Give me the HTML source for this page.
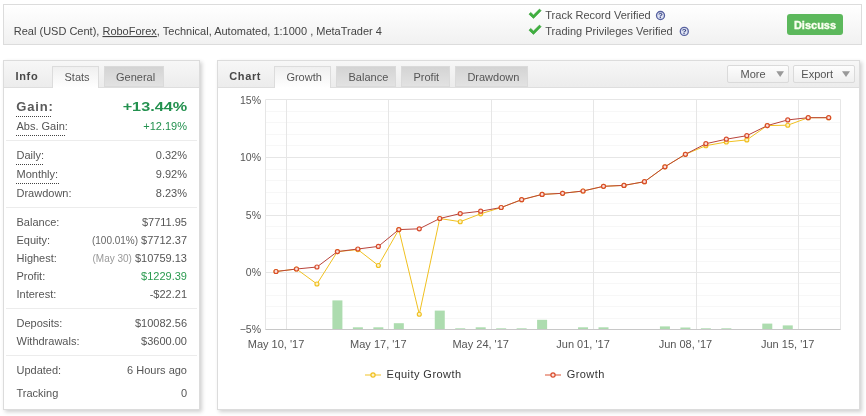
<!DOCTYPE html>
<html><head><meta charset="utf-8"><style>
html,body{margin:0;padding:0;background:#fff;}
body{width:866px;height:416px;position:relative;overflow:hidden;font-family:"Liberation Sans",sans-serif;}
.box{position:absolute;border:1px solid #dcdcdc;box-sizing:border-box;}
#top{left:3px;top:4px;width:859px;height:41px;background:linear-gradient(#ffffff,#f1f1f1);}
.panel{background:#fff;box-shadow:2px 2px 4px rgba(0,0,0,0.19);}
#lp{left:3px;top:60px;width:197px;height:350px;}
#cp{left:217px;top:60px;width:643px;height:350px;}
.hdr{position:absolute;left:0;top:0;right:0;height:26px;border-bottom:1px solid #dedede;background:linear-gradient(#f7f7f7,#ececec);}
.tab{position:absolute;top:5px;height:21px;box-sizing:border-box;background:linear-gradient(#d3d3d3,#e3e3e3);box-shadow:inset 0 0 0 1px #dadada;}
.tab.act{background:linear-gradient(#efefef,#ffffff);border:1px solid #dcdcdc;border-bottom:none;height:22px;box-shadow:none;}
.btn{position:absolute;top:4px;height:18px;box-sizing:border-box;border:1px solid #dadada;border-radius:2px;background:linear-gradient(#fdfdfd,#efefef);}
#disc{position:absolute;left:787px;top:14px;width:56px;height:21px;background:#5cb85c;border-radius:3px;}
svg{position:absolute;left:0;top:0;will-change:transform;}
text{font-family:"Liberation Sans",sans-serif;}
.lb{font-size:11px;fill:#555;}
.sm{font-size:10px;fill:#666;}
.sm2{font-size:10px;fill:#999;}
.ax{font-size:11px;fill:#555;}
.ay{font-size:10.5px;fill:#555;}
.lg{font-size:11px;fill:#333;letter-spacing:0.45px;}
.tb{font-size:11px;fill:#555;}
.hb{font-size:11px;font-weight:bold;fill:#484848;letter-spacing:0.65px;}
</style></head><body>
<div id="top" class="box"></div>
<div id="disc"></div>
<div id="lp" class="box panel"><div class="hdr">
<div class="tab act" style="left:48px;width:47px"></div>
<div class="tab" style="left:100px;width:60px"></div>
</div></div>
<div id="cp" class="box panel"><div class="hdr">
<div class="tab act" style="left:56px;width:57px"></div>
<div class="tab" style="left:118px;width:60px"></div>
<div class="tab" style="left:183px;width:49px"></div>
<div class="tab" style="left:237px;width:73px"></div>
<div class="btn" style="left:509px;width:62px"></div>
<div class="btn" style="left:575px;width:62px"></div>
</div></div>
<svg width="866" height="416" viewBox="0 0 866 416">
<!-- top bar -->
<text x="13.8" y="35" style="font-size:11px;fill:#444">Real (USD Cent), <tspan style="text-decoration:underline">RoboForex</tspan>, Technical, Automated, 1:1000 , MetaTrader 4</text>
<path d="M529 14.2 L530.7 12.4 L533.5 15 L539.5 9.1 L541.1 10.7 L533.5 18.4 Z" fill="#40b040" stroke="#2f9a2f" stroke-width="0.6" stroke-linejoin="round"/>
<path d="M529 30.2 L530.7 28.4 L533.5 31 L539.5 25.1 L541.1 26.7 L533.5 34.4 Z" fill="#40b040" stroke="#2f9a2f" stroke-width="0.6" stroke-linejoin="round"/>
<text x="545.3" y="18.7" style="font-size:11px;fill:#4d4d4d">Track Record Verified</text>
<text x="545.3" y="34.6" style="font-size:11px;fill:#4d4d4d">Trading Privileges Verified</text>
<circle cx="660.5" cy="15.5" r="4" fill="#dfe4f3" stroke="#56609f" stroke-width="1.3"/>
<text x="660.5" y="18.3" text-anchor="middle" style="font-size:8px;font-weight:bold;fill:#323d7e">?</text>
<circle cx="684.3" cy="31.4" r="4" fill="#dfe4f3" stroke="#56609f" stroke-width="1.3"/>
<text x="684.3" y="34.2" text-anchor="middle" style="font-size:8px;font-weight:bold;fill:#323d7e">?</text>
<text x="815" y="28.6" text-anchor="middle" style="font-size:11px;font-weight:bold;fill:#fbfff0;stroke:#fbfff0;stroke-width:0.35px">Discuss</text>
<!-- left panel header -->
<text x="15.5" y="79.7" class="hb">Info</text>
<text x="64.5" y="80.7" class="tb">Stats</text>
<text x="116" y="80.7" class="tb">General</text>
<!-- gain -->
<text x="16.3" y="111" style="font-size:13px;font-weight:bold;fill:#5a5a5a;letter-spacing:0.8px">Gain:</text>
<line x1="16" x2="52" y1="116.5" y2="116.5" stroke="#444" stroke-dasharray="1 1"/>
<text transform="translate(187.2 110.9) scale(1.3 1)" x="0" y="0" text-anchor="end" style="font-size:12.5px;font-weight:bold;fill:#23914f">+13.44%</text>
<text x="16.5" y="129.9" class="lb">Abs. Gain:</text>
<line x1="16" x2="65" y1="135.5" y2="135.5" stroke="#444" stroke-dasharray="1 1"/>
<text x="187" y="129.7" text-anchor="end" style="font-size:11px;fill:#23914f">+12.19%</text>
<line x1="6" x2="197" y1="140.5" y2="140.5" stroke="#ececec"/>
<line x1="16" x2="44" y1="164.5" y2="164.5" stroke="#444" stroke-dasharray="1 1"/>
<line x1="16" x2="60" y1="183.5" y2="183.5" stroke="#444" stroke-dasharray="1 1"/>
<line x1="6" x2="197" y1="207.5" y2="207.5" stroke="#ececec"/>
<line x1="6" x2="197" y1="308.5" y2="308.5" stroke="#ececec"/>
<line x1="6" x2="197" y1="355.5" y2="355.5" stroke="#ececec"/>
<text x="16.5" y="158.7" class="lb">Daily:</text>
<text x="187" y="158.7" text-anchor="end" class="lb">0.32%</text>
<text x="16.5" y="177.9" class="lb">Monthly:</text>
<text x="187" y="177.9" text-anchor="end" class="lb">9.92%</text>
<text x="16.5" y="197.0" class="lb">Drawdown:</text>
<text x="187" y="197.0" text-anchor="end" class="lb">8.23%</text>
<text x="16.5" y="226.0" class="lb">Balance:</text>
<text x="187" y="226.0" text-anchor="end" class="lb">$7711.95</text>
<text x="16.5" y="244.0" class="lb">Equity:</text>
<text x="187" y="244.0" text-anchor="end" class="lb"><tspan class="sm">(100.01%)</tspan> $7712.37</text>
<text x="16.5" y="262.1" class="lb">Highest:</text>
<text x="187" y="262.1" text-anchor="end" class="lb"><tspan class="sm2">(May 30)</tspan> $10759.13</text>
<text x="16.5" y="280.1" class="lb">Profit:</text>
<text x="187" y="280.1" text-anchor="end" class="lb"><tspan fill="#2a9a4f">$1229.39</tspan></text>
<text x="16.5" y="298.0" class="lb">Interest:</text>
<text x="187" y="298.0" text-anchor="end" class="lb">-$22.21</text>
<text x="16.5" y="327.0" class="lb">Deposits:</text>
<text x="187" y="327.0" text-anchor="end" class="lb">$10082.56</text>
<text x="16.5" y="344.6" class="lb">Withdrawals:</text>
<text x="187" y="344.6" text-anchor="end" class="lb">$3600.00</text>
<text x="16.5" y="373.9" class="lb">Updated:</text>
<text x="187" y="373.9" text-anchor="end" class="lb">6 Hours ago</text>
<text x="16.5" y="396.9" class="lb">Tracking</text>
<text x="187" y="396.9" text-anchor="end" class="lb">0</text>
<!-- chart header -->
<text x="229.2" y="80" class="hb">Chart</text>
<text x="286.4" y="80.7" class="tb">Growth</text>
<text x="348.5" y="80.7" class="tb">Balance</text>
<text x="413.5" y="80.7" class="tb">Profit</text>
<text x="467.4" y="80.7" class="tb">Drawdown</text>
<text x="740.6" y="78.4" class="tb">More</text>
<text x="801.3" y="78.4" class="tb">Export</text>
<path d="M776.3 71.3 L784 71.3 L780.15 77 Z" fill="#999"/>
<path d="M842 71.3 L850 71.3 L846 77 Z" fill="#999"/>
<line x1="265.5" x2="840.5" y1="111.5" y2="111.5" stroke="#f7f7f7" stroke-width="1"/>
<line x1="265.5" x2="840.5" y1="122.5" y2="122.5" stroke="#f7f7f7" stroke-width="1"/>
<line x1="265.5" x2="840.5" y1="134.5" y2="134.5" stroke="#f7f7f7" stroke-width="1"/>
<line x1="265.5" x2="840.5" y1="145.5" y2="145.5" stroke="#f7f7f7" stroke-width="1"/>
<line x1="265.5" x2="840.5" y1="169.5" y2="169.5" stroke="#f7f7f7" stroke-width="1"/>
<line x1="265.5" x2="840.5" y1="180.5" y2="180.5" stroke="#f7f7f7" stroke-width="1"/>
<line x1="265.5" x2="840.5" y1="192.5" y2="192.5" stroke="#f7f7f7" stroke-width="1"/>
<line x1="265.5" x2="840.5" y1="203.5" y2="203.5" stroke="#f7f7f7" stroke-width="1"/>
<line x1="265.5" x2="840.5" y1="226.5" y2="226.5" stroke="#f7f7f7" stroke-width="1"/>
<line x1="265.5" x2="840.5" y1="238.5" y2="238.5" stroke="#f7f7f7" stroke-width="1"/>
<line x1="265.5" x2="840.5" y1="249.5" y2="249.5" stroke="#f7f7f7" stroke-width="1"/>
<line x1="265.5" x2="840.5" y1="261.5" y2="261.5" stroke="#f7f7f7" stroke-width="1"/>
<line x1="265.5" x2="840.5" y1="283.5" y2="283.5" stroke="#f7f7f7" stroke-width="1"/>
<line x1="265.5" x2="840.5" y1="295.5" y2="295.5" stroke="#f7f7f7" stroke-width="1"/>
<line x1="265.5" x2="840.5" y1="306.5" y2="306.5" stroke="#f7f7f7" stroke-width="1"/>
<line x1="265.5" x2="840.5" y1="318.5" y2="318.5" stroke="#f7f7f7" stroke-width="1"/>
<line x1="265.5" x2="840.5" y1="99.5" y2="99.5" stroke="#e6e6e6" stroke-width="1"/>
<line x1="265.5" x2="840.5" y1="157.5" y2="157.5" stroke="#e6e6e6" stroke-width="1"/>
<line x1="265.5" x2="840.5" y1="215.5" y2="215.5" stroke="#e6e6e6" stroke-width="1"/>
<line x1="265.5" x2="840.5" y1="272.5" y2="272.5" stroke="#e6e6e6" stroke-width="1"/>
<line x1="265.5" x2="840.5" y1="329.5" y2="329.5" stroke="#e6e6e6" stroke-width="1"/>
<line x1="286.5" x2="286.5" y1="99.5" y2="329.5" stroke="#e6e6e6" stroke-width="1"/>
<line x1="388.5" x2="388.5" y1="99.5" y2="329.5" stroke="#e6e6e6" stroke-width="1"/>
<line x1="491.5" x2="491.5" y1="99.5" y2="329.5" stroke="#e6e6e6" stroke-width="1"/>
<line x1="593.5" x2="593.5" y1="99.5" y2="329.5" stroke="#e6e6e6" stroke-width="1"/>
<line x1="696.5" x2="696.5" y1="99.5" y2="329.5" stroke="#e6e6e6" stroke-width="1"/>
<line x1="798.5" x2="798.5" y1="99.5" y2="329.5" stroke="#e6e6e6" stroke-width="1"/>
<line x1="265.5" x2="265.5" y1="99.5" y2="329.5" stroke="#e6e6e6"/>
<line x1="840.5" x2="840.5" y1="99.5" y2="329.5" stroke="#e6e6e6"/>
<rect x="332.41" y="300.4" width="10" height="29.10" fill="#addcaf"/>
<rect x="352.88" y="327.3" width="10" height="2.20" fill="#addcaf"/>
<rect x="373.35" y="327.3" width="10" height="2.20" fill="#addcaf"/>
<rect x="393.82" y="323.2" width="10" height="6.30" fill="#addcaf"/>
<rect x="434.76" y="310.6" width="10" height="18.90" fill="#addcaf"/>
<rect x="455.23" y="328.3" width="10" height="1.20" fill="#addcaf"/>
<rect x="475.70" y="327.3" width="10" height="2.20" fill="#addcaf"/>
<rect x="496.17" y="328.3" width="10" height="1.20" fill="#addcaf"/>
<rect x="516.64" y="328.3" width="10" height="1.20" fill="#addcaf"/>
<rect x="537.11" y="319.8" width="10" height="9.70" fill="#addcaf"/>
<rect x="578.05" y="327.3" width="10" height="2.20" fill="#addcaf"/>
<rect x="598.52" y="327.3" width="10" height="2.20" fill="#addcaf"/>
<rect x="659.93" y="326.4" width="10" height="3.10" fill="#addcaf"/>
<rect x="680.40" y="327.5" width="10" height="2.00" fill="#addcaf"/>
<rect x="700.87" y="328.3" width="10" height="1.20" fill="#addcaf"/>
<rect x="721.34" y="328.3" width="10" height="1.20" fill="#addcaf"/>
<rect x="762.28" y="323.6" width="10" height="5.90" fill="#addcaf"/>
<rect x="782.75" y="325.4" width="10" height="4.10" fill="#addcaf"/>
<line x1="265.5" x2="840.5" y1="329.5" y2="329.5" stroke="#c8c8c8"/>
<polyline points="276.00,271.5 296.47,269.0 316.94,284.0 337.41,251.6 357.88,249.6 378.35,265.5 398.82,229.6 419.29,314.2 439.76,218.5 460.23,221.7 480.70,213.8 501.17,207.5 521.64,199.7 542.11,194.4 562.58,193.3 583.05,191.0 603.52,186.3 623.99,185.4 644.46,181.7 664.93,166.8 685.40,154.3 705.87,145.7 726.34,142.0 746.81,139.9 767.28,125.6 787.75,125.2 808.22,117.7 828.69,117.7" fill="none" stroke="#f0c020" stroke-width="1" stroke-linejoin="round"/>
<circle cx="276.00" cy="271.5" r="2.0" fill="#fdf1c4" stroke="#f0c020" stroke-width="1.15"/><circle cx="296.47" cy="269.0" r="2.0" fill="#fdf1c4" stroke="#f0c020" stroke-width="1.15"/><circle cx="316.94" cy="284.0" r="2.0" fill="#fdf1c4" stroke="#f0c020" stroke-width="1.15"/><circle cx="337.41" cy="251.6" r="2.0" fill="#fdf1c4" stroke="#f0c020" stroke-width="1.15"/><circle cx="357.88" cy="249.6" r="2.0" fill="#fdf1c4" stroke="#f0c020" stroke-width="1.15"/><circle cx="378.35" cy="265.5" r="2.0" fill="#fdf1c4" stroke="#f0c020" stroke-width="1.15"/><circle cx="398.82" cy="229.6" r="2.0" fill="#fdf1c4" stroke="#f0c020" stroke-width="1.15"/><circle cx="419.29" cy="314.2" r="2.0" fill="#fdf1c4" stroke="#f0c020" stroke-width="1.15"/><circle cx="439.76" cy="218.5" r="2.0" fill="#fdf1c4" stroke="#f0c020" stroke-width="1.15"/><circle cx="460.23" cy="221.7" r="2.0" fill="#fdf1c4" stroke="#f0c020" stroke-width="1.15"/><circle cx="480.70" cy="213.8" r="2.0" fill="#fdf1c4" stroke="#f0c020" stroke-width="1.15"/><circle cx="501.17" cy="207.5" r="2.0" fill="#fdf1c4" stroke="#f0c020" stroke-width="1.15"/><circle cx="521.64" cy="199.7" r="2.0" fill="#fdf1c4" stroke="#f0c020" stroke-width="1.15"/><circle cx="542.11" cy="194.4" r="2.0" fill="#fdf1c4" stroke="#f0c020" stroke-width="1.15"/><circle cx="562.58" cy="193.3" r="2.0" fill="#fdf1c4" stroke="#f0c020" stroke-width="1.15"/><circle cx="583.05" cy="191.0" r="2.0" fill="#fdf1c4" stroke="#f0c020" stroke-width="1.15"/><circle cx="603.52" cy="186.3" r="2.0" fill="#fdf1c4" stroke="#f0c020" stroke-width="1.15"/><circle cx="623.99" cy="185.4" r="2.0" fill="#fdf1c4" stroke="#f0c020" stroke-width="1.15"/><circle cx="644.46" cy="181.7" r="2.0" fill="#fdf1c4" stroke="#f0c020" stroke-width="1.15"/><circle cx="664.93" cy="166.8" r="2.0" fill="#fdf1c4" stroke="#f0c020" stroke-width="1.15"/><circle cx="685.40" cy="154.3" r="2.0" fill="#fdf1c4" stroke="#f0c020" stroke-width="1.15"/><circle cx="705.87" cy="145.7" r="2.0" fill="#fdf1c4" stroke="#f0c020" stroke-width="1.15"/><circle cx="726.34" cy="142.0" r="2.0" fill="#fdf1c4" stroke="#f0c020" stroke-width="1.15"/><circle cx="746.81" cy="139.9" r="2.0" fill="#fdf1c4" stroke="#f0c020" stroke-width="1.15"/><circle cx="767.28" cy="125.6" r="2.0" fill="#fdf1c4" stroke="#f0c020" stroke-width="1.15"/><circle cx="787.75" cy="125.2" r="2.0" fill="#fdf1c4" stroke="#f0c020" stroke-width="1.15"/><circle cx="808.22" cy="117.7" r="2.0" fill="#fdf1c4" stroke="#f0c020" stroke-width="1.15"/><circle cx="828.69" cy="117.7" r="2.0" fill="#fdf1c4" stroke="#f0c020" stroke-width="1.15"/>
<polyline points="276.00,271.5 296.47,269.0 316.94,267.0 337.41,251.6 357.88,249.0 378.35,246.4 398.82,229.6 419.29,228.8 439.76,218.5 460.23,213.6 480.70,211.2 501.17,207.5 521.64,199.7 542.11,194.4 562.58,193.3 583.05,191.0 603.52,186.3 623.99,185.4 644.46,181.7 664.93,166.8 685.40,154.3 705.87,143.7 726.34,139.2 746.81,135.7 767.28,125.6 787.75,119.9 808.22,117.7 828.69,117.7" fill="none" stroke="#b8433a" stroke-width="1" stroke-linejoin="round"/>
<circle cx="276.00" cy="271.5" r="2.0" fill="#fbe2dc" stroke="#d84c2c" stroke-width="1.2"/><circle cx="296.47" cy="269.0" r="2.0" fill="#fbe2dc" stroke="#d84c2c" stroke-width="1.2"/><circle cx="316.94" cy="267.0" r="2.0" fill="#fbe2dc" stroke="#d84c2c" stroke-width="1.2"/><circle cx="337.41" cy="251.6" r="2.0" fill="#fbe2dc" stroke="#d84c2c" stroke-width="1.2"/><circle cx="357.88" cy="249.0" r="2.0" fill="#fbe2dc" stroke="#d84c2c" stroke-width="1.2"/><circle cx="378.35" cy="246.4" r="2.0" fill="#fbe2dc" stroke="#d84c2c" stroke-width="1.2"/><circle cx="398.82" cy="229.6" r="2.0" fill="#fbe2dc" stroke="#d84c2c" stroke-width="1.2"/><circle cx="419.29" cy="228.8" r="2.0" fill="#fbe2dc" stroke="#d84c2c" stroke-width="1.2"/><circle cx="439.76" cy="218.5" r="2.0" fill="#fbe2dc" stroke="#d84c2c" stroke-width="1.2"/><circle cx="460.23" cy="213.6" r="2.0" fill="#fbe2dc" stroke="#d84c2c" stroke-width="1.2"/><circle cx="480.70" cy="211.2" r="2.0" fill="#fbe2dc" stroke="#d84c2c" stroke-width="1.2"/><circle cx="501.17" cy="207.5" r="2.0" fill="#fbe2dc" stroke="#d84c2c" stroke-width="1.2"/><circle cx="521.64" cy="199.7" r="2.0" fill="#fbe2dc" stroke="#d84c2c" stroke-width="1.2"/><circle cx="542.11" cy="194.4" r="2.0" fill="#fbe2dc" stroke="#d84c2c" stroke-width="1.2"/><circle cx="562.58" cy="193.3" r="2.0" fill="#fbe2dc" stroke="#d84c2c" stroke-width="1.2"/><circle cx="583.05" cy="191.0" r="2.0" fill="#fbe2dc" stroke="#d84c2c" stroke-width="1.2"/><circle cx="603.52" cy="186.3" r="2.0" fill="#fbe2dc" stroke="#d84c2c" stroke-width="1.2"/><circle cx="623.99" cy="185.4" r="2.0" fill="#fbe2dc" stroke="#d84c2c" stroke-width="1.2"/><circle cx="644.46" cy="181.7" r="2.0" fill="#fbe2dc" stroke="#d84c2c" stroke-width="1.2"/><circle cx="664.93" cy="166.8" r="2.0" fill="#fbe2dc" stroke="#d84c2c" stroke-width="1.2"/><circle cx="685.40" cy="154.3" r="2.0" fill="#fbe2dc" stroke="#d84c2c" stroke-width="1.2"/><circle cx="705.87" cy="143.7" r="2.0" fill="#fbe2dc" stroke="#d84c2c" stroke-width="1.2"/><circle cx="726.34" cy="139.2" r="2.0" fill="#fbe2dc" stroke="#d84c2c" stroke-width="1.2"/><circle cx="746.81" cy="135.7" r="2.0" fill="#fbe2dc" stroke="#d84c2c" stroke-width="1.2"/><circle cx="767.28" cy="125.6" r="2.0" fill="#fbe2dc" stroke="#d84c2c" stroke-width="1.2"/><circle cx="787.75" cy="119.9" r="2.0" fill="#fbe2dc" stroke="#d84c2c" stroke-width="1.2"/><circle cx="808.22" cy="117.7" r="2.0" fill="#fbe2dc" stroke="#d84c2c" stroke-width="1.2"/><circle cx="828.69" cy="117.7" r="2.0" fill="#fbe2dc" stroke="#d84c2c" stroke-width="1.2"/>
<text x="261" y="103.6" text-anchor="end" class="ay">15%</text>
<text x="261" y="161.1" text-anchor="end" class="ay">10%</text>
<text x="261" y="218.6" text-anchor="end" class="ay">5%</text>
<text x="261" y="276.1" text-anchor="end" class="ay">0%</text>
<text x="261" y="333.0" text-anchor="end" class="ay">−5%</text>
<text x="276.00" y="348" text-anchor="middle" class="ax">May 10, '17</text>
<text x="378.35" y="348" text-anchor="middle" class="ax">May 17, '17</text>
<text x="480.70" y="348" text-anchor="middle" class="ax">May 24, '17</text>
<text x="583.05" y="348" text-anchor="middle" class="ax">Jun 01, '17</text>
<text x="685.40" y="348" text-anchor="middle" class="ax">Jun 08, '17</text>
<text x="787.75" y="348" text-anchor="middle" class="ax">Jun 15, '17</text>
<line x1="365" x2="381" y1="375" y2="375" stroke="#f0c020" stroke-width="1.2" stroke-opacity="0.8"/><circle cx="373" cy="375" r="2.1" fill="#fdf1c4" stroke="#f0c020" stroke-width="1.2"/>
<text x="386.6" y="378" class="lg">Equity Growth</text>
<line x1="545" x2="561" y1="375" y2="375" stroke="#d84c2c" stroke-width="1.2" stroke-opacity="0.8"/><circle cx="553" cy="375" r="2.1" fill="#fbe2dc" stroke="#d84c2c" stroke-width="1.2"/>
<text x="566.7" y="378" class="lg">Growth</text>
</svg>
</body></html>
